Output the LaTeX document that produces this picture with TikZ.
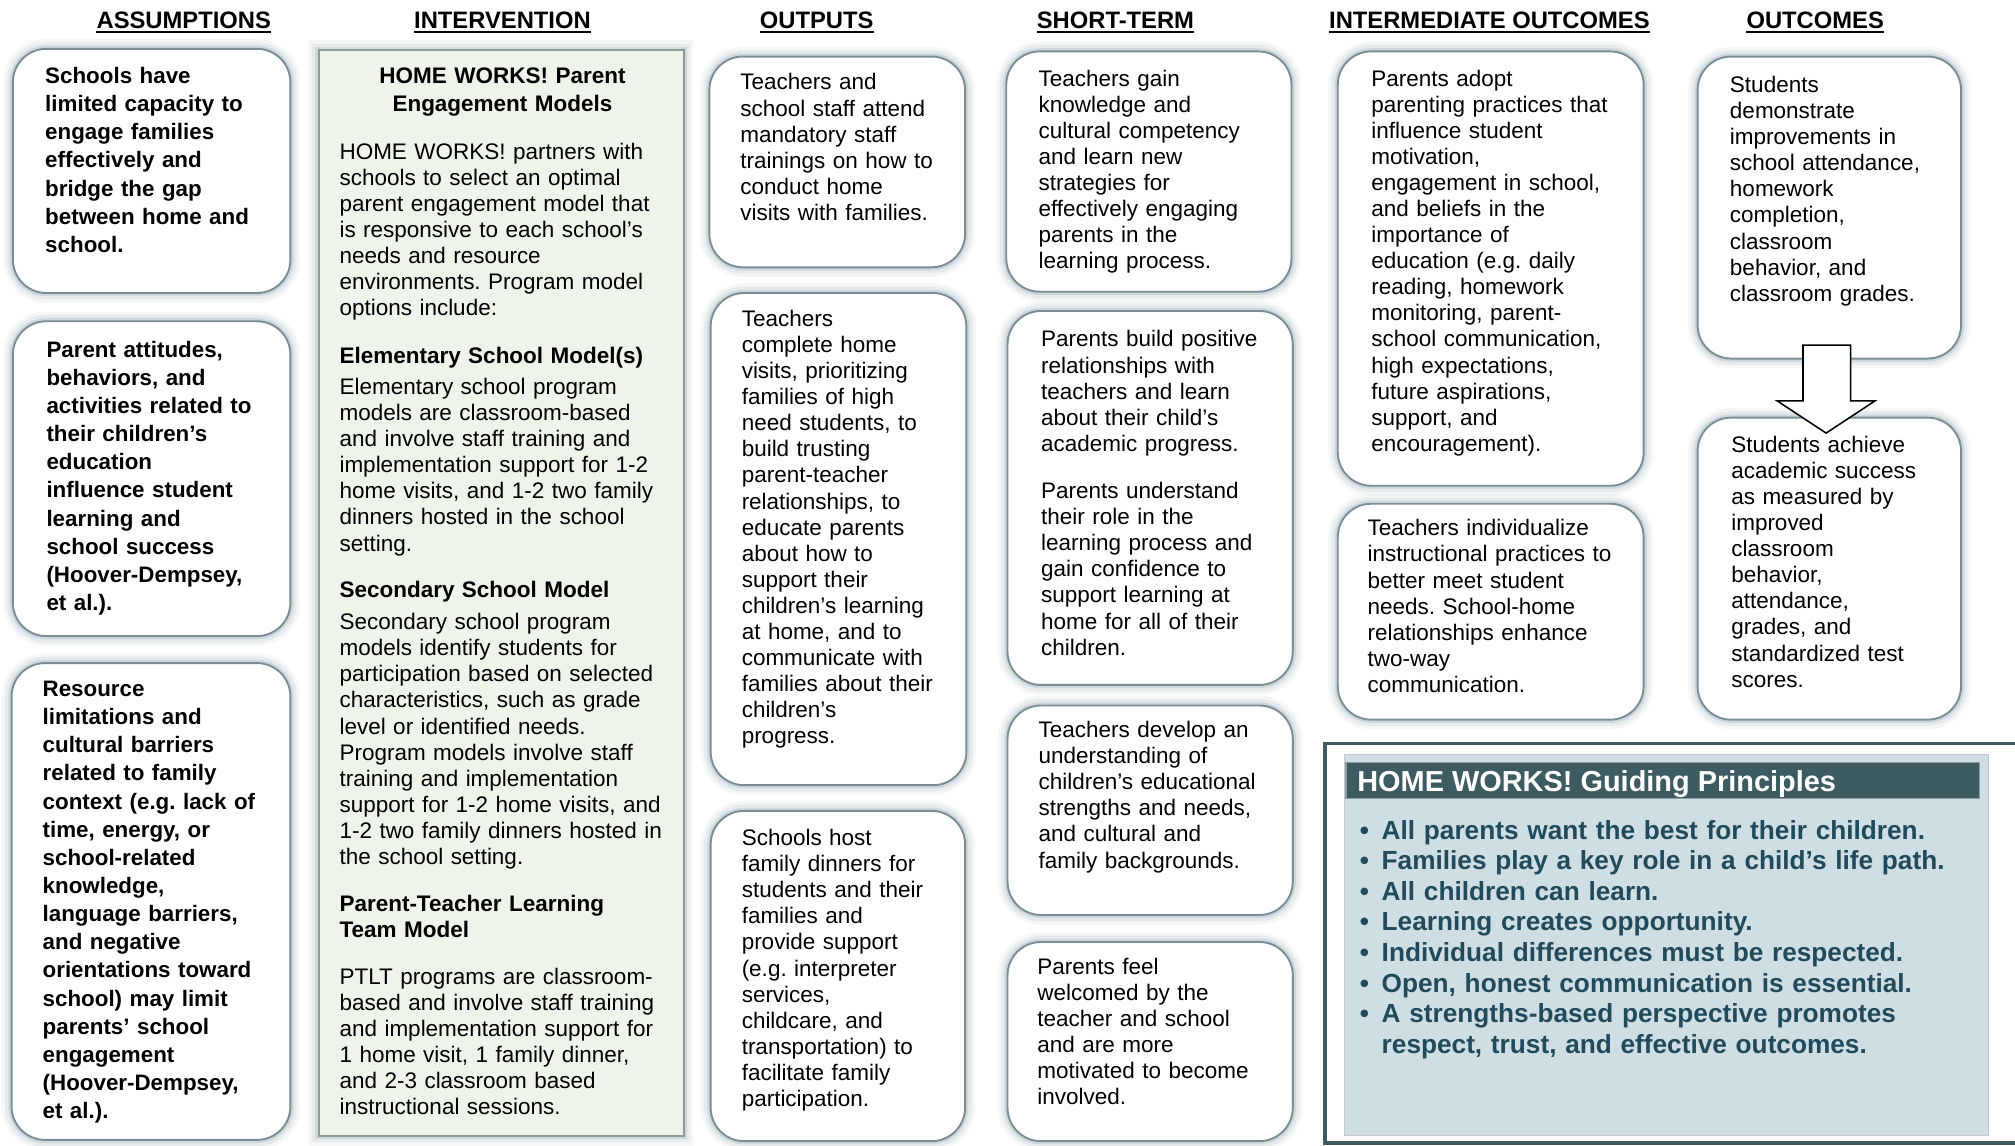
\documentclass[tikz,border=0pt]{standalone}
\usepackage{fontspec}
\setmainfont{Liberation Sans}
\usetikzlibrary{calc}
\frenchspacing
\definecolor{bordc}{HTML}{7A8F95}
\definecolor{glowc}{HTML}{9DB2BA}
\definecolor{ivfill}{HTML}{EEF4EA}
\definecolor{ivbord}{HTML}{8E9C95}
\definecolor{gpbord}{HTML}{3E5A62}
\definecolor{gpfill}{HTML}{CFDEE3}
\definecolor{gpbar}{HTML}{3D5B61}
\definecolor{gptext}{HTML}{214B5C}
\tikzset{
  glowbox/.style={
    preaction={draw=glowc,line width=15pt,opacity=0.10},
    preaction={draw=glowc,line width=10pt,opacity=0.16},
    preaction={draw=glowc,line width=5pt,opacity=0.30}},
  rbox/.style={glowbox,draw=bordc,line width=1.5pt,fill=white,rounded corners=26pt,
    inner sep=0pt,outer sep=0pt,anchor=north west},
  ivbox/.style={glowbox,draw=ivbord,line width=1.5pt,fill=ivfill,
    inner sep=0pt,outer sep=0pt,anchor=north west},
  body/.style={anchor=base west,inner sep=0pt,text width=300pt,align=left,
    font=\fontsize{17.5}{20.3}\selectfont},
  bbody/.style={body,font=\fontsize{17.4}{21.9}\selectfont\bfseries},
  hbody/.style={body,font=\fontsize{17.5}{20.3}\selectfont\bfseries},
  colhead/.style={anchor=base,inner sep=0pt,font=\fontsize{18.5}{20}\selectfont\bfseries},
  uline/.style={line width=1.4pt},
}
\newcommand\rbx[6]{\node[#1,minimum width={#5-#3},minimum height={#6-#4}] (#2) at (#3,#4) {};}
\begin{document}
\begin{tikzpicture}[x=1pt,y=-1pt]
\useasboundingbox (0,0) rectangle (1568,891);
\clip (0,0) rectangle (1568,891);
\fill[white] (0,0) rectangle (1568,891);

% column headers
\foreach \nm/\tx/\cx in {hA/ASSUMPTIONS/143, hB/INTERVENTION/391, hC/OUTPUTS/635.5,
  hD/SHORT-TERM/868, hE/INTERMEDIATE OUTCOMES/1159, hF/OUTCOMES/1412.5}{
  \node[colhead] (\nm) at (\cx,22) {\tx};
  \draw[uline] ($(\nm.base west)+(0,2.8)$) -- ($(\nm.base east)+(0,2.8)$);
}

% boxes
\rbx{rbox}{a1}{10}{38}{226}{228}
\rbx{rbox}{a2}{10}{250}{226}{495}
\rbx{rbox}{a3}{9}{516}{226}{887}
\rbx{ivbox}{iv}{248}{39}{532}{884}
\rbx{rbox}{o1}{552}{44}{751}{208}
\rbx{rbox}{o2}{553}{228}{752}{611}
\rbx{rbox}{o3}{553}{631}{751}{888}
\rbx{rbox}{s1}{783}{40}{1005}{227}
\rbx{rbox}{s2}{784}{242}{1006}{533}
\rbx{rbox}{s3}{784}{549}{1006}{712}
\rbx{rbox}{s4}{784}{733}{1006}{888}
\rbx{rbox}{i1}{1041}{40}{1279}{378}
\rbx{rbox}{i2}{1041}{392}{1279}{560}
\rbx{rbox}{c1}{1321}{44}{1526}{279}
\rbx{rbox}{c2}{1321}{325}{1526}{560}

% arrow between outcomes
\draw[line width=1.2pt,fill=white,line join=miter]
  (1403,268.5) -- (1440,268.5) -- (1440,312) -- (1459,312) -- (1421,337)
  -- (1383,312) -- (1403,312) -- cycle;

% assumptions
\node[bbody] (a1t) at (35,65) {Schools have\\limited capacity to\\engage families\\effectively and\\bridge the gap\\between home and\\school.};
\node[bbody] (a2t) at (36,278) {Parent attitudes,\\behaviors, and\\activities related to\\their children’s\\education\\influence student\\learning and\\school success\\(Hoover-Dempsey,\\et al.).};
\node[bbody] (a3t) at (33,542) {Resource\\limitations and\\cultural barriers\\related to family\\context (e.g. lack of\\time, energy, or\\school-related\\knowledge,\\language barriers,\\and negative\\orientations toward\\school) may limit\\parents’ school\\engagement\\(Hoover-Dempsey,\\et al.).};

% intervention
\node[anchor=base,inner sep=0pt,text width=280pt,align=center,
  font=\fontsize{17.5}{22}\selectfont\bfseries] (ivt) at (391,65) {HOME WORKS! Parent\\Engagement Models};
\node[body] (ivb1) at (264,124) {HOME WORKS! partners with\\schools to select an optimal\\parent engagement model that\\is responsive to each school’s\\needs and resource\\environments. Program model\\options include:};
\node[hbody] (ivh1) at (264,283) {Elementary School Model(s)};
\node[body] (ivb2) at (264,307) {Elementary school program\\models are classroom-based\\and involve staff training and\\implementation support for 1-2\\home visits, and 1-2 two family\\dinners hosted in the school\\setting.};
\node[hbody] (ivh2) at (264,465) {Secondary School Model};
\node[body] (ivb3) at (264,490) {Secondary school program\\models identify students for\\participation based on selected\\characteristics, such as grade\\level or identified needs.\\Program models involve staff\\training and implementation\\support for 1-2 home visits, and\\1-2 two family dinners hosted in\\the school setting.};
\node[hbody] (ivh3) at (264,709) {Parent-Teacher Learning\\Team Model};
\node[body] (ivb4) at (264,766) {PTLT programs are classroom-\\based and involve staff training\\and implementation support for\\1 home visit, 1 family dinner,\\and 2-3 classroom based\\instructional sessions.};

% outputs
\node[body] (o1t) at (576,70) {Teachers and\\school staff attend\\mandatory staff\\trainings on how to\\conduct home\\visits with families.};
\node[body] (o2t) at (577,254) {Teachers\\complete home\\visits, prioritizing\\families of high\\need students, to\\build trusting\\parent-teacher\\relationships, to\\educate parents\\about how to\\support their\\children’s learning\\at home, and to\\communicate with\\families about their\\children’s\\progress.};
\node[body] (o3t) at (577,658) {Schools host\\family dinners for\\students and their\\families and\\provide support\\(e.g. interpreter\\services,\\childcare, and\\transportation) to\\facilitate family\\participation.};

% short-term
\node[body] (s1t) at (808,67) {Teachers gain\\knowledge and\\cultural competency\\and learn new\\strategies for\\effectively engaging\\parents in the\\learning process.};
\node[body] (s2t) at (810,270) {Parents build positive\\relationships with\\teachers and learn\\about their child’s\\academic progress.};
\node[body] (s2u) at (810,388) {Parents understand\\their role in the\\learning process and\\gain confidence to\\support learning at\\home for all of their\\children.};
\node[body] (s3t) at (808,574) {Teachers develop an\\understanding of\\children’s educational\\strengths and needs,\\and cultural and\\family backgrounds.};
\node[body] (s4t) at (807,758) {Parents feel\\welcomed by the\\teacher and school\\and are more\\motivated to become\\involved.};

% intermediate
\node[body] (i1t) at (1067,67) {Parents adopt\\parenting practices that\\influence student\\motivation,\\engagement in school,\\and beliefs in the\\importance of\\education (e.g. daily\\reading, homework\\monitoring, parent-\\school communication,\\high expectations,\\future aspirations,\\support, and\\encouragement).};
\node[body] (i2t) at (1064,417) {Teachers individualize\\instructional practices to\\better meet student\\needs. School-home\\relationships enhance\\two-way\\communication.};

% outcomes
\node[body] (c1t) at (1346,72) {Students\\demonstrate\\improvements in\\school attendance,\\homework\\completion,\\classroom\\behavior, and\\classroom grades.};
\node[body] (c2t) at (1347,352) {Students achieve\\academic success\\as measured by\\improved\\classroom\\behavior,\\attendance,\\grades, and\\standardized test\\scores.};

% guiding principles
\draw[gpbord,line width=2.7pt] (1031,578.5) rectangle (1590,889.5);
\node[fill=gpfill,draw=black!22,line width=0.8pt,anchor=north west,inner sep=0pt,
  minimum width=501,minimum height=296] (gp) at (1046,587) {};
\node[fill=gpbar,draw=gpbar!60!white,line width=0.8pt,anchor=north west,inner sep=0pt,
  minimum width=493,minimum height=28] (gpbar) at (1047,593) {};
\node[anchor=base west,inner sep=0pt,text=white,
  font=\fontsize{22.5}{24}\selectfont\bfseries] (gptitle) at (1056,616) {HOME WORKS! Guiding Principles};
\node[anchor=base west,inner sep=0pt,text width=480pt,align=left,text=gptext,
  font=\fontsize{20.4}{23.8}\selectfont\bfseries] (gplist) at (1058,653)
  {\makebox[17pt][l]{•}All parents want the best for their children.\\
   \makebox[17pt][l]{•}Families play a key role in a child’s life path.\\
   \makebox[17pt][l]{•}All children can learn.\\
   \makebox[17pt][l]{•}Learning creates opportunity.\\
   \makebox[17pt][l]{•}Individual differences must be respected.\\
   \makebox[17pt][l]{•}Open, honest communication is essential.\\
   \makebox[17pt][l]{•}A strengths-based perspective promotes\\
   \hspace*{17pt}respect, trust, and effective outcomes.};
\end{tikzpicture}
\end{document}
